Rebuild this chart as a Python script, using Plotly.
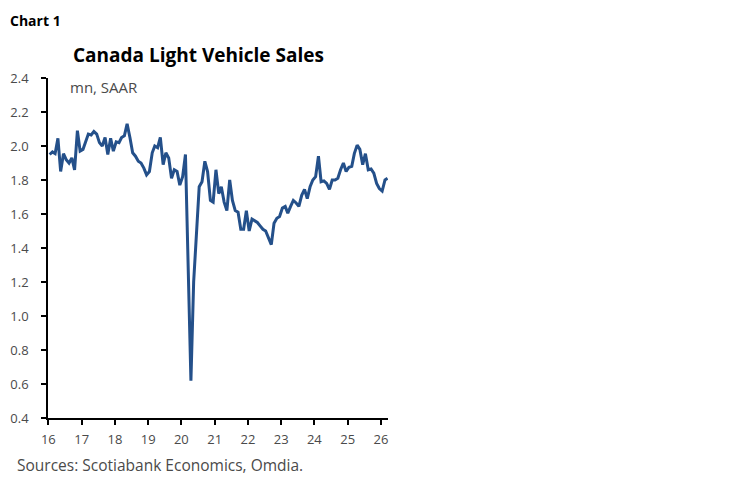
import pandas as pd
import plotly.graph_objects as go

# monthly light vehicle sales, mn units SAAR, Jan 2016 - Mar 2026
sales_2016_2019 = [1.95, 1.965, 1.955, 2.045, 1.85, 1.955, 1.92, 1.90, 1.93, 1.86, 2.09, 1.97,
                   1.98, 2.03, 2.07, 2.065, 2.085, 2.07, 2.02, 2.00, 2.05, 1.95, 2.045, 1.97,
                   2.025, 2.02, 2.05, 2.06, 2.13, 2.05, 1.96, 1.94, 1.91, 1.90, 1.87, 1.83,
                   1.85, 1.96, 2.00, 1.99, 2.05, 1.89, 1.96, 1.93, 1.81, 1.86, 1.85, 1.77]
sales_2020_2022 = [1.82, 1.95, 1.25, 0.62, 1.20, 1.50, 1.76, 1.79, 1.91, 1.85, 1.68, 1.67,
                   1.86, 1.72, 1.76, 1.67, 1.62, 1.80, 1.68, 1.62, 1.61, 1.51, 1.51, 1.62,
                   1.50, 1.57, 1.56, 1.55, 1.53, 1.51, 1.50, 1.46, 1.42, 1.545, 1.575, 1.585]
sales_2023_2026 = [1.635, 1.645, 1.605, 1.645, 1.68, 1.665, 1.645, 1.71, 1.745, 1.69, 1.76, 1.80,
                   1.82, 1.94, 1.79, 1.795, 1.78, 1.745, 1.80, 1.80, 1.81, 1.86, 1.90, 1.85,
                   1.875, 1.88, 1.955, 2.005, 1.98, 1.89, 1.955, 1.86, 1.865, 1.84, 1.78, 1.75,
                   1.735, 1.80, 1.81]
sales = sales_2016_2019 + sales_2020_2022 + sales_2023_2026

dates = pd.date_range('2016-01-01', periods=len(sales), freq='MS') + pd.Timedelta(days=14)

year_ticks = [f'{y}-01-01' for y in range(2016, 2027)]
year_labels = [str(y)[2:] for y in range(2016, 2027)]
y_ticks = [0.4, 0.6, 0.8, 1.0, 1.2, 1.4, 1.6, 1.8, 2.0, 2.2, 2.4]

font_name = 'Open Sans'
text_grey = '#4a4a4a'

fig = go.Figure()
fig.add_trace(go.Scatter(x=dates, y=sales, mode='lines',
                         line=dict(color='#24508a', width=3)))

# page body has an 8px margin, so the figure is drawn 8px smaller
fig.update_layout(
    width=740, height=475,
    margin=dict(l=40, r=360, t=70, b=65, autoexpand=False),
    paper_bgcolor='white', plot_bgcolor='white',
    showlegend=False,
    font=dict(family=font_name, size=13, color=text_grey),
)

fig.update_xaxes(
    range=['2015-12-28', '2026-03-20'],
    tickvals=year_ticks, ticktext=year_labels,
    ticks='outside', ticklen=5, tickwidth=1.5, tickcolor='black',
    showline=True, linecolor='black', linewidth=1.5,
    showgrid=False, zeroline=False,
    tickfont=dict(size=13, color=text_grey), ticklabelstandoff=4,
)
fig.update_yaxes(
    range=[0.4, 2.4],
    tickvals=y_ticks, ticktext=[f'{v:.1f}' for v in y_ticks],
    ticks='outside', ticklen=5, tickwidth=1.5, tickcolor='black',
    showline=True, linecolor='black', linewidth=1.5,
    showgrid=False, zeroline=False,
    tickfont=dict(size=13, color=text_grey), ticklabelstandoff=10,
)

fig.add_annotation(text='<b>Chart 1</b>', x=-0.1176, y=1.203, xref='paper', yref='paper',
                   xanchor='left', yanchor='top', showarrow=False,
                   font=dict(size=14, color='black'))
fig.add_annotation(text='<b>Canada Light Vehicle Sales</b>', x=0.444, y=1.068,
                   xref='paper', yref='paper', xanchor='center', yanchor='middle',
                   showarrow=False, font=dict(size=19, color='black'))
fig.add_annotation(text='mn, SAAR', x=0.058, y=0.974, xref='paper', yref='paper',
                   xanchor='left', yanchor='middle', showarrow=False,
                   font=dict(size=15, color=text_grey))
fig.add_annotation(text='Sources: Scotiabank Economics, Omdia.', x=-0.097, y=-0.138,
                   xref='paper', yref='paper', xanchor='left', yanchor='middle',
                   showarrow=False, font=dict(size=15.5, color=text_grey))

fig.write_html('out.html')
